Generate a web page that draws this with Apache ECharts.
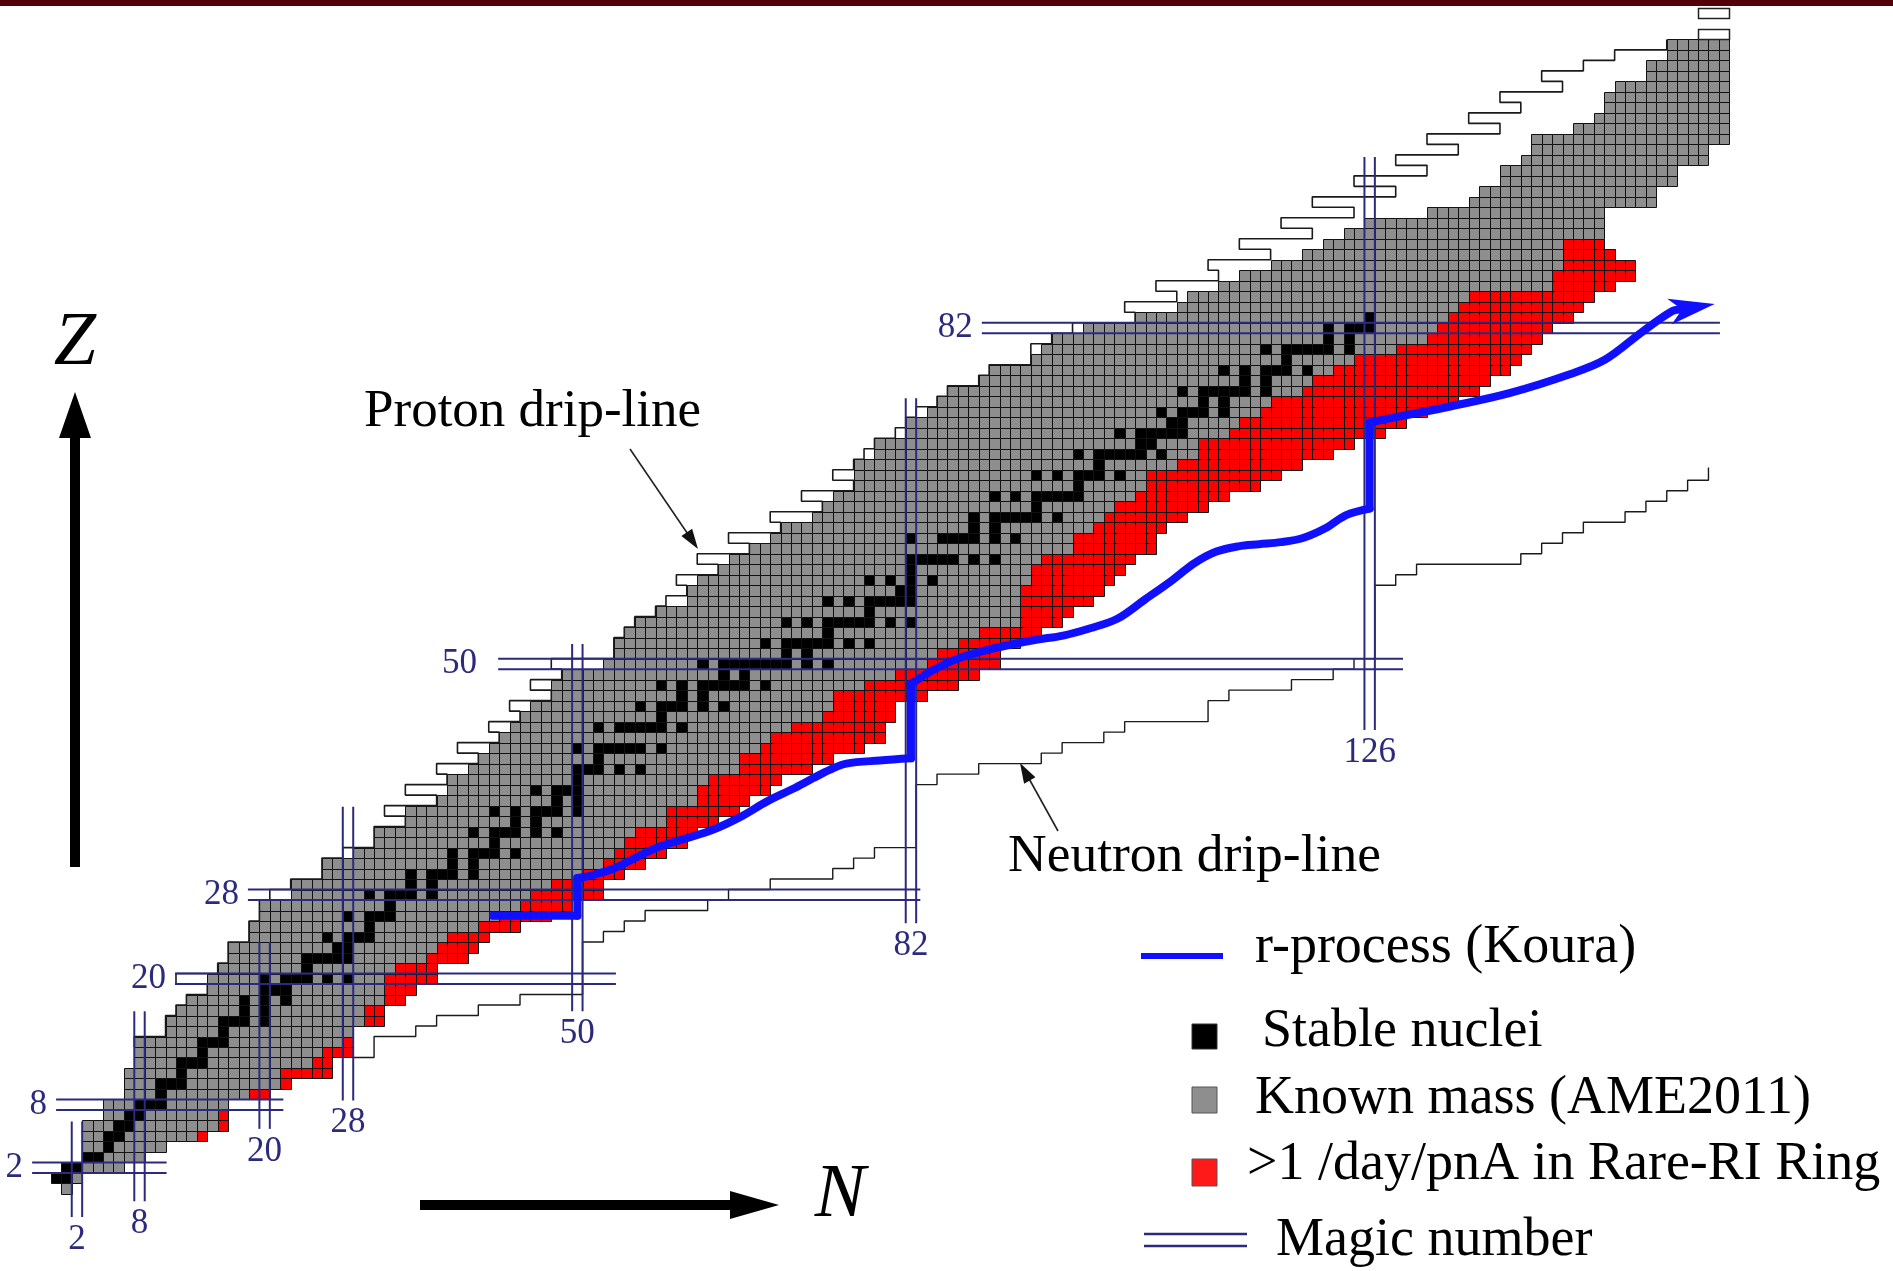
<!DOCTYPE html>
<html>
<head>
<meta charset="utf-8">
<title>Nuclear chart - Rare-RI Ring</title>
<script src="https://cdn.jsdelivr.net/npm/echarts@6/dist/echarts.min.js"></script>
<style>
html, body { margin: 0; padding: 0; background: #fff; }
#chart { width: 1893px; height: 1271px; }
</style>
</head>
<body>
<div id="chart"></div>
<script>
// Nuclear chart: N horizontal, Z vertical

// first / last neutron number drawn in each row, index = Z (0..109)
var knownFrom = [1,0,1,3,3,3,3,5,5,7, 7,7,8,8,8,11,11,12,13,15,
  15,16,17,17,19,19,20,20,23,23, 26,26,29,31,31,34,34,37,38,38,
  40,41,42,43,44,45,46,48,48,49, 53,54,54,55,56,58,61,61,62,64,
  65,67,69,70,73,74,75,77,77,77, 79,79,82,82,84,85,86,89,90,94,
  95,96,99,104,108,109,112,114,117,120, 122,124,126,132,136,137,139,139,141,142,
  142,146,148,149,149,150,153,153,155,155];
var knownTo = [1,2,6,8,10,14,16,16,16,20, 22,26,26,28,28,28,31,31,33,34,
  36,36,39,40,41,44,47,49,52,52, 54,56,58,60,61,63,65,66,68,69,
  72,74,77,79,79,80,80,83,86,88, 90,90,92,94,96,97,99,100,101,102,
  103,105,105,106,108,110,112,115,117,119, 122,124,127,129,131,134,136,137,139,140,
  141,142,143,145,146,147,149,151,151,149, 148,148,148,148,153,153,155,155,158,158,
  160,160,160,160,160,160,160,160,160,160];
// first N of the red (>1 /day/pnA) part of each row, 0 = none
var redFrom = [0,0,0,0,0,14,16,16,0,19, 22,22,25,26,28,0,30,30,32,32,
  32,33,36,37,38,41,43,45,46,48, 51,53,54,55,56,59,59,62,62,63,
  66,66,68,69,71,74,75,75,78,81, 84,85,87,89,93,93,93,93,94,94,
  95,98,98,100,101,102,104,105,105,108, 110,110,113,114,116,117,120,121,123,125,
  129,132,133,134,135,136,144,144,145,145, 145,0,0,0,0,0,0,0,0,0,
  0,0,0,0,0,0,0,0,0,0];
// stable isotopes: neutron numbers, index = Z
var stableN = [[],[0,1],[1,2],[3,4],[5],[5,6],[6,7],[7,8],[8,9,10],[10],
  [10,11,12],[12],[12,13,14],[14],[14,15,16],[16],[16,17,18,20],[18,20],[18,20,22],[20,21,22],
  [20,22,23,24,26,28],[24],[24,25,26,27,28],[27,28],[26,28,29,30],[30],[28,30,31,32],[32],[30,32,33,34,36],[34,36],
  [34,36,37,38,40],[38,40],[38,40,41,42,44],[42],[40,42,43,44,46,48],[44,46],[42,44,46,47,48,50],[48,50],[46,48,49,50],[50],
  [50,51,52,54,56],[52],[50,52,53,54,55,56,58],[],[52,54,55,56,57,58,60],[58],[56,58,59,60,62,64],[60,62],[58,60,62,63,64,65,66,68],[64,66],
  [62,64,65,66,67,68,69,70,72,74],[70,72],[68,70,71,72,73,74,76,78],[74],[70,72,74,75,76,77,78,80,82],[78],[74,76,78,79,80,81,82],[81,82],[78,80,82,84],[82],
  [82,83,84,85,86,88,90],[],[82,85,86,87,88,90,92],[88,90],[88,90,91,92,93,94,96],[94],[90,92,94,95,96,97,98],[98],[94,96,98,99,100,102],[100],
  [98,100,101,102,103,104,106],[104,105],[102,104,105,106,107,108],[107,108],[106,108,109,110,112],[110,112],[108,110,111,112,113,114,116],[114,116],[112,114,116,117,118,120],[118],
  [116,118,119,120,121,122,124],[122,124],[122,124,125,126],[126]];

// proton drip-line: first N of the drip cell, rows Z = 14..109
var pDripZ0 = 14;
var pDrip = [8,11,11,12,13,15,12,16,17,17, 19,19,20,20,21,23,26,26,28,31,
  31,34,32,37,34,38,37,41,39,43, 42,45,44,48,46,49,48,54,54,55,
  56,58,59,61,60,64,62,67,65,70, 69,74,72,77,75,77,78,79,81,82,
  83,85,86,89,90,94,94,96,98,104, 103,108,106,112,111,117,114,121,118,125,
  121,129,125,132,129,135,132,139,136,141, 139,145,143,147,150,155];
// isolated drip boxes above the known region: Z, first N, last N
var boxZ = [110, 112];
var boxN1 = [158, 158];
var boxN2 = [160, 160];

// neutron drip-line corners
var nDripN = [28.5,30.5,30.5,34.5,34.5,36.5,36.5,40.5,40.5,44.5,44.5,50.5,50.5,52.5,52.5,54.5,54.5,56.5,56.5,62.5,
  62.5,64.5,64.5,68.5,68.5,74.5,74.5,76.5,76.5,78.5,78.5,82.5,82.5,84.5,84.5,88.5,88.5,94.5,94.5,96.5,
  96.5,100.5,100.5,102.5,102.5,110.5,110.5,112.5,112.5,118.5,118.5,122.5,122.5,124.5,124.5,126.5,126.5,128.5,128.5,130.5,
  130.5,140.5,140.5,142.5,142.5,144.5,144.5,146.5,146.5,150.5,150.5,152.5,152.5,154.5,154.5,156.5,156.5,158.5,158.5];
var nDripZ = [12.5,12.5,14.5,14.5,15.5,15.5,16.5,16.5,17.5,17.5,18.5,18.5,23.5,23.5,24.5,24.5,25.5,25.5,26.5,26.5,
  27.5,27.5,28.5,28.5,29.5,29.5,30.5,30.5,31.5,31.5,32.5,32.5,38.5,38.5,39.5,39.5,40.5,40.5,41.5,41.5,
  42.5,42.5,43.5,43.5,44.5,44.5,46.5,46.5,47.5,47.5,48.5,48.5,49.5,49.5,50.5,50.5,57.5,57.5,58.5,58.5,
  59.5,59.5,60.5,60.5,61.5,61.5,62.5,62.5,63.5,63.5,64.5,64.5,65.5,65.5,66.5,66.5,67.5,67.5,68.7];

// r-process path (Koura)
var rN = [41.9,50.0,50.0,51.2,53.5,55.7,57.9,60.5,63.0,65.6,68.2,70.7,72.6,74.2,75.8,79.0,82.0,82.0,84.1,86.2,
  88.8,91.4,94.0,96.6,99.2,101.8,104.4,107.1,109.2,111.3,113.4,115.4,117.5,119.6,121.7,123.8,126.0,126.0,129.0,133.6,
  139.4,145.2,148.6,152.1,155.0,159.1];
var rZ = [26.0,26.0,29.6,29.8,30.5,31.6,32.6,33.4,34.2,35.4,36.9,38.1,39.1,39.9,40.5,40.8,41.0,48.1,49.4,50.4,
  51.2,51.8,52.3,52.7,53.4,54.3,56.1,58.0,59.6,60.7,61.2,61.4,61.6,62.0,62.9,64.2,64.8,73.0,73.6,74.5,
  75.8,77.6,79.0,81.6,83.6,84.3];

// magic numbers: double lines
var magicZ = [2, 8, 20, 28, 50, 82];
var magicZFrom = [-2.3, 0, 11.4, 18.4, 42.4, 88.8];
var magicZTo = [10.6, 21.8, 53.7, 82.9, 129.2, 159.6];
var magicN = [2, 8, 20, 28, 50, 82, 126];
var magicNFrom = [-2.7, -1.2, 5.7, 8.4, 16.9, 25.3, 43.7];
var magicNTo = [6.4, 16.9, 23.5, 36.4, 51.9, 75.3, 98.3];
// gap (px) between a Z line and its label
var magicZGap = [9, 9, 9, 9, 21, 9];

var legendNames = ['r-process (Koura)', 'Stable nuclei', 'Known mass (AME2011)',
  '>1 /day/pnA in Rare-RI Ring', 'Magic number'];

// ---- colours ----
var GRAY = '#8e8e8e', RED = '#ff0000', BLACK = '#000000';
var NAVY = '#2b2a7c', BLUE = '#1010ff';
var SERIF = '"Liberation Serif", "DejaVu Serif", serif';
var cellColors = [GRAY, RED, BLACK];

// build cell table
var cells = [];
var cellIndex = {};
for (var z = 0; z < knownFrom.length; z++) {
  for (var n = knownFrom[z]; n <= knownTo[z]; n++) {
    var t = (redFrom[z] && n >= redFrom[z]) ? 1 : 0;
    cellIndex[n + '_' + z] = cells.length;
    cells.push([n, z, t]);
  }
}
stableN.forEach(function (list, z) {
  list.forEach(function (n) {
    var k = n + '_' + z;
    if (k in cellIndex) cells[cellIndex[k]][2] = 2;
    else cells.push([n, z, 2]);
  });
});

var dripPts = [];
pDrip.forEach(function (n, i) {
  var zz = pDripZ0 + i;
  dripPts.push([n - 0.5, zz - 0.5], [n - 0.5, zz + 0.5]);
});

var nDripPts = nDripN.map(function (n, i) { return [n, nDripZ[i]]; });

var magicData = [];
magicZ.forEach(function (v, i) { magicData.push([0, v, magicZFrom[i], magicZTo[i], magicZGap[i]]); });
magicN.forEach(function (v, i) { magicData.push([1, v, magicNFrom[i], magicNTo[i], 5]); });

var boxData = boxZ.map(function (zz, i) { return [zz, boxN1[i], boxN2[i]]; });

// crisp cell: snap edges to whole pixels
function renderCell(params, api) {
  var a = api.coord([api.value(0) - 0.5, api.value(1) + 0.5]);
  var b = api.coord([api.value(0) + 0.5, api.value(1) - 0.5]);
  var x0 = Math.round(a[0]) + 0.5, y0 = Math.round(a[1]) + 0.5;
  var x1 = Math.round(b[0]) + 0.5, y1 = Math.round(b[1]) + 0.5;
  return {
    type: 'rect',
    shape: { x: x0, y: y0, width: x1 - x0, height: y1 - y0 },
    style: { fill: cellColors[api.value(2)], stroke: '#111', lineWidth: 1 }
  };
}

function renderBox(params, api) {
  var zz = api.value(0), a = api.value(1), b = api.value(2);
  var p = api.coord([a - 0.5, zz + 0.5]);
  var s = api.size([b - a + 1, 1]);
  return {
    type: 'rect',
    shape: { x: Math.round(p[0]) + 0.5, y: Math.round(p[1]) + 0.5, width: Math.round(s[0]), height: Math.round(s[1]) },
    style: { fill: '#fff', stroke: '#222', lineWidth: 1.5 }
  };
}

function renderMagic(params, api) {
  var dir = api.value(0), v = api.value(1), a = api.value(2), b = api.value(3), gap = api.value(4);
  var s = api.size([1, 1]);
  var kids = [];
  var font = '35px ' + SERIF;
  if (dir === 0) {
    var p1 = api.coord([a, v]), p2 = api.coord([b, v]);
    [-0.5, 0.5].forEach(function (k) {
      var y = p1[1] + k * s[1];
      kids.push({ type: 'line', shape: { x1: p1[0], y1: y, x2: p2[0], y2: y },
        style: { stroke: NAVY, lineWidth: 2 } });
    });
    kids.push({ type: 'text', x: p1[0] - gap, y: p1[1],
      style: { text: String(v), font: font, fill: NAVY,
        textAlign: 'right', textVerticalAlign: 'middle', align: 'right', verticalAlign: 'middle' } });
  } else {
    var q1 = api.coord([v, a]), q2 = api.coord([v, b]);
    [-0.5, 0.5].forEach(function (k) {
      var x = q1[0] + k * s[0];
      kids.push({ type: 'line', shape: { x1: x, y1: q1[1], x2: x, y2: q2[1] },
        style: { stroke: NAVY, lineWidth: 2 } });
    });
    kids.push({ type: 'text', x: q1[0], y: q1[1] + gap,
      style: { text: String(v), font: font, fill: NAVY,
        textAlign: 'center', textVerticalAlign: 'top', align: 'center', verticalAlign: 'top' } });
  }
  return { type: 'group', children: kids };
}

// r-process: straight jumps at the magic N, smooth in between, arrow at the end
function renderRProcess(params, api) {
  var pts = rN.map(function (n, i) { return api.coord([n, rZ[i]]); });
  var tip = pts[pts.length - 1], prev = pts[pts.length - 2];
  var dx = tip[0] - prev[0], dy = tip[1] - prev[1];
  var len = Math.sqrt(dx * dx + dy * dy);
  dx /= len; dy /= len;
  var L = 46, W = 13;
  var bx = tip[0] - dx * L, by = tip[1] - dy * L;
  var nx = tip[0] - dx * L * 0.72, ny = tip[1] - dy * L * 0.72;
  pts[pts.length - 1] = [nx, ny];

  var style = { stroke: BLUE, lineWidth: 8, fill: null, lineJoin: 'round', lineCap: 'round' };
  var kids = [];
  var piece = [pts[0]];
  for (var i = 1; i < pts.length; i++) {
    var vertical = rN[i] === rN[i - 1];
    if (vertical) {
      if (piece.length > 1) kids.push({ type: 'polyline', shape: { points: piece, smooth: 0.35 }, style: style });
      kids.push({ type: 'polyline', shape: { points: [pts[i - 1], pts[i]] }, style: style });
      piece = [pts[i]];
    } else {
      piece.push(pts[i]);
    }
  }
  if (piece.length > 1) kids.push({ type: 'polyline', shape: { points: piece, smooth: 0.35 }, style: style });
  kids.push({ type: 'polygon', shape: { points: [tip, [bx - dy * W, by + dx * W], [nx, ny], [bx + dy * W, by - dx * W]] },
    style: { fill: BLUE } });
  return { type: 'group', children: kids };
}

function arrowHead(x1, y1, x2, y2, L, W) {
  var dx = x2 - x1, dy = y2 - y1;
  var d = Math.sqrt(dx * dx + dy * dy);
  dx /= d; dy /= d;
  var bx = x2 - dx * L, by = y2 - dy * L;
  return [[x2, y2], [bx - dy * W, by + dx * W], [bx + dy * W, by - dx * W]];
}

function txt(s, x, y, size, align, extra) {
  return {
    type: 'text', x: x, y: y, z: 100,
    style: Object.assign({ text: s, font: size + 'px ' + SERIF, fill: '#000',
      textAlign: align, textVerticalAlign: 'middle', align: align, verticalAlign: 'middle' }, extra || {})
  };
}

var graphics = [
  { type: 'rect', shape: { x: 0, y: 0, width: 1893, height: 6 }, style: { fill: '#540008' } },
  // Z axis arrow
  { type: 'rect', shape: { x: 70, y: 430, width: 10, height: 437 }, style: { fill: '#000' } },
  { type: 'polygon', shape: { points: [[75, 392], [59, 438], [91, 438]] }, style: { fill: '#000' } },
  txt('Z', 75, 344, 76, 'center', { font: 'italic 76px ' + SERIF }),
  // N axis arrow
  { type: 'rect', shape: { x: 420, y: 1200, width: 315, height: 10 }, style: { fill: '#000' } },
  { type: 'polygon', shape: { points: [[779, 1205], [730, 1191], [730, 1219]] }, style: { fill: '#000' } },
  txt('N', 840, 1196, 76, 'center', { font: 'italic 76px ' + SERIF }),
  // drip-line annotations
  txt('Proton drip-line', 364, 412, 53, 'left'),
  { type: 'line', shape: { x1: 630, y1: 449, x2: 696, y2: 546 }, style: { stroke: '#222', lineWidth: 1.6 } },
  { type: 'polygon', shape: { points: arrowHead(630, 449, 698, 549, 20, 6.5) }, style: { fill: '#111' } },
  txt('Neutron drip-line', 1008, 857, 53.5, 'left'),
  { type: 'line', shape: { x1: 1058, y1: 831, x2: 1022, y2: 766 }, style: { stroke: '#222', lineWidth: 1.6 } },
  { type: 'polygon', shape: { points: arrowHead(1058, 831, 1020, 763, 20, 6.5) }, style: { fill: '#111' } },
  // legend
  { type: 'line', shape: { x1: 1141, y1: 956, x2: 1223, y2: 956 }, style: { stroke: BLUE, lineWidth: 6 } },
  txt(legendNames[0], 1255, 948, 54, 'left'),
  { type: 'rect', shape: { x: 1192, y: 1024, width: 25, height: 25 }, style: { fill: BLACK, stroke: '#333', lineWidth: 1 } },
  txt(legendNames[1], 1262, 1032, 54, 'left'),
  { type: 'rect', shape: { x: 1192, y: 1087, width: 25, height: 26 }, style: { fill: GRAY, stroke: '#555', lineWidth: 1 } },
  txt(legendNames[2], 1255, 1099, 54, 'left'),
  { type: 'rect', shape: { x: 1192, y: 1159, width: 25, height: 27 }, style: { fill: '#ff1a1a', stroke: '#555', lineWidth: 1 } },
  txt(legendNames[3], 1247, 1165, 54, 'left'),
  { type: 'line', shape: { x1: 1144, y1: 1234, x2: 1247, y2: 1234 }, style: { stroke: NAVY, lineWidth: 2.5 } },
  { type: 'line', shape: { x1: 1144, y1: 1246, x2: 1247, y2: 1246 }, style: { stroke: NAVY, lineWidth: 2.5 } },
  txt(legendNames[4], 1276, 1241, 54, 'left')
];

var option = {
  animation: false,
  backgroundColor: '#ffffff',
  grid: { left: 3.975, right: 12.525, top: 2.65, bottom: 29.82 },
  xAxis: { type: 'value', min: -5, max: 175, show: false, splitLine: { show: false } },
  yAxis: { type: 'value', min: -5, max: 113, show: false, splitLine: { show: false } },
  series: [
    {
      name: 'cells', type: 'custom', renderItem: renderCell, data: cells,
      encode: { x: 0, y: 1 }, z: 1, silent: true, clip: false
    },
    {
      name: 'drip boxes', type: 'custom', renderItem: renderBox, data: boxData,
      encode: { x: 1, y: 0 }, z: 2, silent: true, clip: false
    },
    {
      name: 'Proton drip-line', type: 'line', data: dripPts, showSymbol: false,
      lineStyle: { color: '#1a1a1a', width: 1.6 }, z: 2, silent: true
    },
    {
      name: 'Neutron drip-line', type: 'line', data: nDripPts, showSymbol: false,
      lineStyle: { color: '#1a1a1a', width: 1.4 }, z: 2, silent: true
    },
    {
      name: 'Magic number', type: 'custom', renderItem: renderMagic, data: magicData,
      encode: { x: 2, y: 1 }, z: 3, silent: true, clip: false
    },
    {
      name: 'r-process (Koura)', type: 'custom', renderItem: renderRProcess,
      data: [[rN[0], rZ[0]]], encode: { x: 0, y: 1 }, z: 5, silent: true, clip: false
    }
  ],
  graphic: graphics
};

var chart = echarts.init(document.getElementById('chart'));
chart.setOption(option);

window.addEventListener('resize', function () { chart.resize(); });
</script>
</body>
</html>
